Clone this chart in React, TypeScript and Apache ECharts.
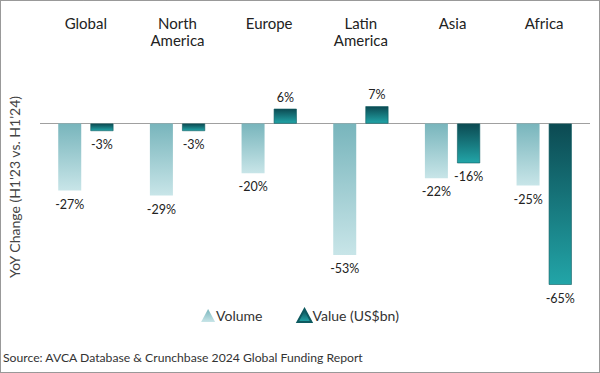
import React, { useEffect, useRef } from "react";
import * as echarts from "echarts";

const categories = ["Global", "North\nAmerica", "Europe", "Latin\nAmerica", "Asia", "Africa"];
const volumeValues = [-27, -29, -20, -53, -22, -25];
const valueValues = [-3, -3, 6, 7, -16, -65];
const seriesNames = ["Volume", "Value (US$bn)"];
const yAxisTitle = "YoY Change (H1'23 vs. H1'24)";
const sourceText = "Source: AVCA Database & Crunchbase 2024 Global Funding Report";

const FONT = "Lato, 'Noto Sans', sans-serif";

function withLabels(vals: number[]) {
  return vals.map((v) => ({
    value: v,
    label: { position: v < 0 ? "bottom" : "top", distance: v < 0 ? 7 : 5 },
  }));
}

export default function App() {
  const ref = useRef<HTMLDivElement>(null);
  useEffect(() => {
    document.body.style.margin = "0";
    const chart = echarts.init(ref.current!, null, { renderer: "svg" });
    const volGrad = new echarts.graphic.LinearGradient(0, 0, 0, 1, [
      { offset: 0, color: "#78b5bc" },
      { offset: 1, color: "#c8e5e8" },
    ]);
    const valGrad = new echarts.graphic.LinearGradient(0, 0, 0, 1, [
      { offset: 0, color: "#0c4a52" },
      { offset: 1, color: "#22a5a8" },
    ]);
    const labelCommon = {
      show: true,
      formatter: "{c}%",
      fontFamily: FONT,
      fontSize: 12.5,
      color: "#222",
    };
    chart.setOption({
      animation: false,
      textStyle: { fontFamily: FONT },
      grid: { left: 40, right: 10, top: 74, bottom: 51, outerBoundsMode: "none", containLabel: false },
      legend: {
        data: [
          { name: seriesNames[0], icon: "triangle" },
          { name: seriesNames[1], icon: "triangle" },
        ],
        left: "center",
        top: 303,
        itemWidth: 14,
        itemHeight: 13,
        itemGap: 34,
        textStyle: { fontFamily: FONT, fontSize: 14, color: "#333", padding: [0, 0, 0, -4] },
      },
      xAxis: {
        type: "category",
        data: categories,
        position: "top",
        axisLine: { show: false },
        axisTick: { show: false },
        axisLabel: {
          verticalAlign: "top",
          margin: 60,
          fontFamily: FONT,
          fontSize: 15,
          lineHeight: 17,
          color: "#222",
        },
      },
      yAxis: {
        type: "value",
        min: -80,
        max: 20,
        axisLine: { show: false },
        axisTick: { show: false },
        axisLabel: { show: false },
        splitLine: { show: false },
      },
      series: [
        {
          name: seriesNames[0],
          type: "bar",
          data: withLabels(volumeValues),
          barWidth: 23,
          barGap: "40%",
          itemStyle: { color: volGrad },
          label: labelCommon,
          markLine: {
            silent: true,
            symbol: "none",
            label: { show: false },
            lineStyle: { color: "#a0a0a0", width: 1.2, type: "solid" },
            data: [{ yAxis: 0 }],
            z: 1,
          },
        },
        {
          name: seriesNames[1],
          type: "bar",
          data: withLabels(valueValues),
          barWidth: 23,
          barGap: "40%",
          itemStyle: { color: valGrad, borderColor: "#0e5a60", borderWidth: 0.6 },
          label: labelCommon,
        },
      ],
      graphic: [
        {
          type: "text",
          x: 14,
          y: 187,
          rotation: Math.PI / 2,
          style: {
            text: yAxisTitle,
            fontFamily: FONT,
            fontSize: 14,
            fill: "#444",
            align: "center",
            verticalAlign: "middle",
          },
        },
        {
          type: "text",
          left: 3,
          top: 351,
          style: { text: sourceText, fontFamily: FONT, fontSize: 12.2, fill: "#333" },
        },
        {
          type: "rect",
          shape: { x: 0.5, y: 0.5, width: 599, height: 372 },
          style: { fill: "none", stroke: "#333", lineWidth: 1, lineDash: [1, 1] },
          silent: true,
        },
      ],
    });
    return () => chart.dispose();
  }, []);
  return <div ref={ref} style={{ width: 600, height: 373 }} />;
}
